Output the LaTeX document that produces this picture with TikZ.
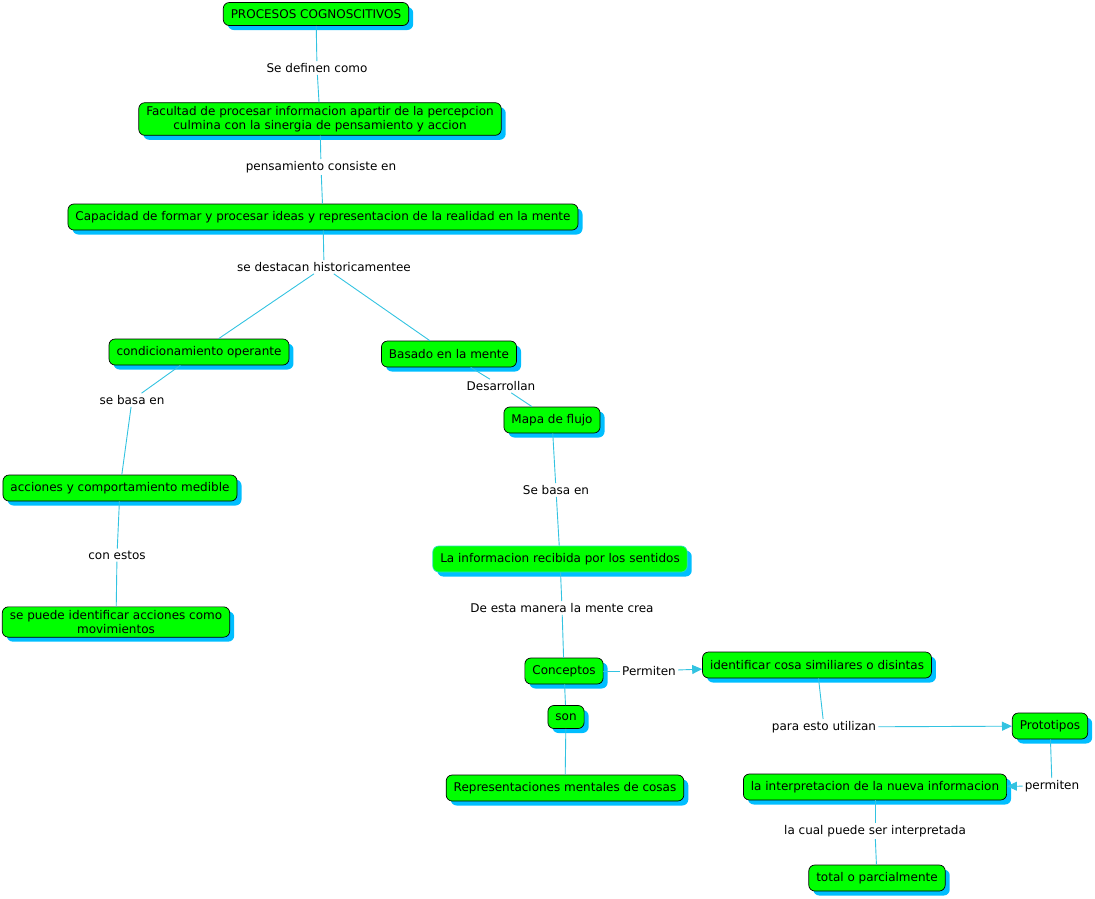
\documentclass[tikz,border=0pt]{standalone}
\usepackage{fontspec}
\setmainfont{DejaVu Sans}
\usetikzlibrary{shadows,arrows.meta}
\definecolor{cmapgreen}{RGB}{0,255,0}
\definecolor{cmapshadow}{RGB}{0,190,255}
\definecolor{cmapline}{RGB}{50,195,225}
\definecolor{cmapedge}{RGB}{40,225,190}

\begin{document}
\begin{tikzpicture}[x=1pt,y=-1pt,
	concept/.style={draw=black,line width=0.7pt,fill=cmapgreen,rounded corners=6pt,
		minimum height=26pt,inner xsep=7.5pt,inner ysep=3.5pt,align=center,
		font=\fontsize{12}{14}\selectfont,
		drop shadow={shadow xshift=4.5pt,shadow yshift=-4.5pt,fill=cmapshadow,opacity=1}},
	linkword/.style={inner sep=2pt,font=\fontsize{12}{14}\selectfont},
	link/.style={draw=cmapline,line width=0.9pt},
	linkto/.style={link,-{Triangle[length=10pt,width=9pt]}}]
	\useasboundingbox (0,0) rectangle (1095,898);
	% concepts
	\node[concept,minimum height=23pt] (procesos) at (316,14) {PROCESOS COGNOSCITIVOS};
	\node[concept] (facultad) at (320,119) {Facultad de procesar informacion apartir de la percepcion\\culmina con la sinergia de pensamiento y accion};
	\node[concept] (capacidad) at (323,217) {Capacidad de formar y procesar ideas y representacion de la realidad en la mente};
	\node[concept] (condicion) at (199,352) {condicionamiento operante};
	\node[concept] (basado) at (449,354) {Basado en la mente};
	\node[concept] (mapa) at (552,420) {Mapa de flujo};
	\node[concept] (acciones) at (120,488) {acciones y comportamiento medible};
	\node[concept] (identacc) at (116,622) {se puede identificar acciones como\\movimientos};
	\node[concept,draw=cmapedge] (sentidos) at (560,559) {La informacion recibida por los sentidos};
	\node[concept] (conceptos) at (564,671) {Conceptos};
	\node[concept] (similares) at (817,665) {identificar cosa similiares o disintas};
	\node[concept,minimum height=23pt] (son) at (566,717) {son};
	\node[concept] (prototipos) at (1050,726) {Prototipos};
	\node[concept] (represent) at (565,788) {Representaciones mentales de cosas};
	\node[concept] (interpreta) at (875,787) {la interpretacion de la nueva informacion};
	\node[concept] (total) at (877,878) {total o parcialmente};
	% linking words
	\node[linkword] (definen) at (317,68) {Se definen como};
	\node[linkword] (consiste) at (321,167) {pensamiento consiste en};
	\node[linkword] (destacan) at (324,267) {se destacan historicamentee};
	\node[linkword] (basa) at (132,400) {se basa en};
	\node[linkword] (desarrollan) at (501,386) {Desarrollan};
	\node[linkword] (estos) at (117,555) {con estos};
	\node[linkword] (basaen) at (556,490) {Se basa en};
	\node[linkword] (manera) at (562,608) {De esta manera la mente crea};
	\node[linkword] (permiten) at (649,671) {Permiten};
	\node[linkword] (utilizan) at (824,727) {para esto utilizan};
	\node[linkword] (permiten2) at (1052,786) {permiten};
	\node[linkword] (cual) at (875,831) {la cual puede ser interpretada};
	% connectors
	\draw[link] (procesos) -- (definen);
	\draw[link] (definen) -- (facultad);
	\draw[link] (facultad) -- (consiste);
	\draw[link] (consiste) -- (capacidad);
	\draw[link] (capacidad) -- (destacan);
	\draw[link] (destacan) -- (condicion);
	\draw[link] (destacan) -- (basado);
	\draw[link] (condicion) -- (basa);
	\draw[link] (basa) -- (acciones);
	\draw[link] (acciones) -- (estos);
	\draw[link] (estos) -- (identacc);
	\draw[link] (basado) -- (desarrollan);
	\draw[link] (desarrollan) -- (mapa);
	\draw[link] (mapa) -- (basaen);
	\draw[link] (basaen) -- (sentidos);
	\draw[link] (sentidos) -- (manera);
	\draw[link] (manera) -- (conceptos);
	\draw[link] (conceptos) -- (permiten);
	\draw[linkto] (permiten) -- (similares);
	\draw[link] (conceptos) -- (son);
	\draw[link] (son) -- (represent);
	\draw[link] (similares) -- (utilizan);
	\draw[linkto] (utilizan) -- (prototipos);
	\draw[link] (prototipos) -- (permiten2);
	\draw[linkto] (permiten2) -- (interpreta);
	\draw[link] (interpreta) -- (cual);
	\draw[link] (cual) -- (total);
\end{tikzpicture}
\end{document}
